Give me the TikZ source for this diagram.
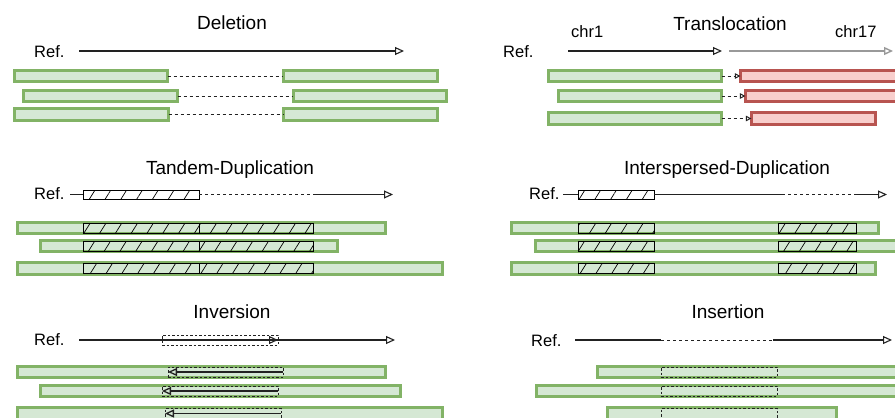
\documentclass[tikz,border=0pt]{standalone}
\usepackage{fontspec}
\setmainfont{Liberation Sans}
\usetikzlibrary{arrows.meta,patterns.meta}

\definecolor{gfill}{HTML}{D5E8D4}
\definecolor{gline}{HTML}{82B366}
\definecolor{rfill}{HTML}{F8CECC}
\definecolor{rline}{HTML}{B85450}
\definecolor{ink}{HTML}{222222}
\definecolor{pale}{HTML}{999999}

% read box given by its outer edges: style, name, left, top, right, bottom
\newcommand{\seqbox}[6]{%
  \node[#1, minimum width={#5-(#3)-2.8}, minimum height={#6-(#4)-2.8}]
    (#2) at ({(#3+#5)/2},{(#4+#6)/2}) {};}
% thin segment box given by its path edges
\newcommand{\segbox}[6]{%
  \node[#1, minimum width={#5-(#3)}, minimum height={#6-(#4)}]
    (#2) at ({(#3+#5)/2},{(#4+#6)/2}) {};}

\tikzset{
  read/.style={draw=gline, fill=gfill, line width=2.8pt, inner sep=0pt, outer sep=0pt},
  readred/.style={draw=rline, fill=rfill, line width=2.8pt, inner sep=0pt, outer sep=0pt},
  dup/.style={draw=black, line width=0.9pt, inner sep=0pt, outer sep=0pt,
    pattern={Lines[angle=58,distance=13.4pt,line width=0.7pt]}, pattern color=black},
  seg/.style={draw=ink, line width=0.9pt, dash pattern=on 2.5pt off 2pt, inner sep=0pt, outer sep=0pt},
  refline/.style={draw=ink, line width=1.1pt},
  joinline/.style={draw=ink, line width=1pt, dash pattern=on 3pt off 3pt},
  openend/.style={-{Triangle[open,length=9pt,width=8pt]}},
  smallend/.style={-{Triangle[open,length=5.5pt,width=5.5pt]}},
  heading/.style={font=\fontsize{19}{22}\selectfont, anchor=base, inner sep=0pt},
  lbl/.style={font=\fontsize{16.5}{19}\selectfont, anchor=base west, inner sep=0pt},
}

\begin{document}
\begin{tikzpicture}[x=1pt,y=-1pt]
\useasboundingbox (0,0) rectangle (895,418);
\clip (0,0) rectangle (895,418);

% ---------------- Deletion ----------------
\node[heading] (tdel) at (232,29) {Deletion};
\node[lbl] (rdel) at (34,57) {Ref.};
\coordinate (del0) at (79,51);
\coordinate (del1) at (404,51);
\draw[refline, openend] (del0) -- (del1);
\seqbox{read}{d1a}{13}{69}{169}{83}
\seqbox{read}{d1b}{282}{69}{439}{83}
\seqbox{read}{d2a}{22}{89}{179}{103}
\seqbox{read}{d2b}{292}{89}{448}{103}
\seqbox{read}{d3a}{13}{107}{170}{122}
\seqbox{read}{d3b}{282}{107}{439}{122}
\draw[joinline] (d1a.east) -- (d1b.west);
\draw[joinline] (d2a.east) -- (d2b.west);
\draw[joinline] (d3a.east) -- (d3b.west);

% ---------------- Translocation ----------------
\node[heading] (ttra) at (730,30) {Translocation};
\node[lbl] (chra) at (571,37) {chr1};
\node[lbl] (chrb) at (835,37) {chr17};
\node[lbl] (rtra) at (503,57) {Ref.};
\coordinate (tra0) at (568,51);
\coordinate (tra1) at (722,51);
\coordinate (tra2) at (729,51);
\coordinate (tra3) at (893,51);
\draw[refline, openend] (tra0) -- (tra1);
\draw[draw=pale, line width=1.4pt, openend] (tra2) -- (tra3);
\seqbox{read}{t1a}{547}{69}{723}{83}
\seqbox{readred}{t1b}{739}{69}{899}{83}
\seqbox{read}{t2a}{557}{89}{723}{103}
\seqbox{readred}{t2b}{744}{89}{899}{103}
\seqbox{read}{t3a}{547}{111}{723}{126}
\seqbox{readred}{t3b}{750}{111}{877}{126}
\draw[joinline, smallend] (t1a.east) -- (t1b.west);
\draw[joinline, smallend] (t2a.east) -- (t2b.west);
\draw[joinline, smallend] (t3a.east) -- (t3b.west);

% ---------------- Tandem duplication ----------------
\node[heading] (ttan) at (230,174) {Tandem-Duplication};
\node[lbl] (rtan) at (34,199) {Ref.};
\coordinate (tan0) at (70,194.5);
\coordinate (tan1) at (313,194.5);
\coordinate (tan2) at (393,194.5);
\segbox{dup}{tref}{83}{190}{199}{199}
\draw[refline] (tan0) -- (tref.west);
\draw[joinline] (tref.east) -- (tan1);
\draw[refline, openend] (tan1) -- (tan2);
\seqbox{read}{u1}{16}{221}{387}{235}
\segbox{dup}{u1a}{83}{223}{199}{233}
\segbox{dup}{u1b}{199}{223}{313}{233}
\seqbox{read}{u2}{39}{239}{339}{253}
\segbox{dup}{u2a}{83}{241}{199}{251}
\segbox{dup}{u2b}{199}{241}{313}{251}
\seqbox{read}{u3}{16}{261}{444}{276}
\segbox{dup}{u3a}{83}{263.5}{199}{273.5}
\segbox{dup}{u3b}{199}{263.5}{313}{273.5}

% ---------------- Interspersed duplication ----------------
\node[heading] (tint) at (727,174) {Interspersed-Duplication};
\node[lbl] (rint) at (529,199) {Ref.};
\coordinate (int0) at (563,194.5);
\coordinate (int1) at (782,194.5);
\coordinate (int2) at (857,194.5);
\coordinate (int3) at (887,194.5);
\segbox{dup}{iref}{578}{190}{654}{199}
\draw[refline] (int0) -- (iref.west);
\draw[refline] (iref.east) -- (int1);
\draw[joinline] (int1) -- (int2);
\draw[refline, openend] (int2) -- (int3);
\seqbox{read}{w1}{510}{221}{880}{235}
\segbox{dup}{w1a}{578}{223}{654}{233}
\segbox{dup}{w1b}{778}{223}{856}{233}
\seqbox{read}{w2}{534}{239}{899}{253}
\segbox{dup}{w2a}{578}{241}{654}{251}
\segbox{dup}{w2b}{778}{241}{856}{251}
\seqbox{read}{w3}{510}{261}{877}{276}
\segbox{dup}{w3a}{578}{263.5}{654}{273.5}
\segbox{dup}{w3b}{778}{263.5}{856}{273.5}

% ---------------- Inversion ----------------
\node[heading] (tinv) at (232,318) {Inversion};
\node[lbl] (rinv) at (34,345) {Ref.};
\coordinate (inv0) at (79,340);
\coordinate (inv1) at (395,340);
\draw[refline, openend] (inv0) -- (inv1);
\segbox{seg}{vref}{162}{335}{278}{345}
\draw[refline, openend] (vref.west) -- (vref.east);
\seqbox{read}{v1}{16}{365}{387}{379}
\segbox{seg}{v1a}{168}{367}{283}{377}
\draw[refline, line width=1.3pt, openend] (v1a.east) -- (v1a.west);
\seqbox{read}{v2}{39}{384}{402}{398}
\segbox{seg}{v2a}{162}{386}{278}{396}
\draw[refline, line width=1.3pt, openend] (v2a.east) -- (v2a.west);
\seqbox{read}{v3}{16}{406}{444}{421}
\segbox{seg}{v3a}{165}{408.5}{281}{418.5}
\draw[refline, line width=1.3pt, openend] (v3a.east) -- (v3a.west);

% ---------------- Insertion ----------------
\node[heading] (tins) at (728,318) {Insertion};
\node[lbl] (rins) at (531,346) {Ref.};
\coordinate (ins0) at (575,340);
\coordinate (ins1) at (661,340);
\coordinate (ins2) at (773,340);
\coordinate (ins3) at (892,340);
\draw[refline] (ins0) -- (ins1);
\draw[joinline] (ins1) -- (ins2);
\draw[refline, openend] (ins2) -- (ins3);
\seqbox{read}{n1}{596}{365}{899}{379}
\segbox{seg}{n1a}{661}{367}{777}{377}
\seqbox{read}{n2}{535}{384}{899}{398}
\segbox{seg}{n2a}{661}{386}{777}{396}
\seqbox{read}{n3}{606}{406}{838}{421}
\segbox{seg}{n3a}{661}{408.5}{777}{418.5}
\end{tikzpicture}
\end{document}
